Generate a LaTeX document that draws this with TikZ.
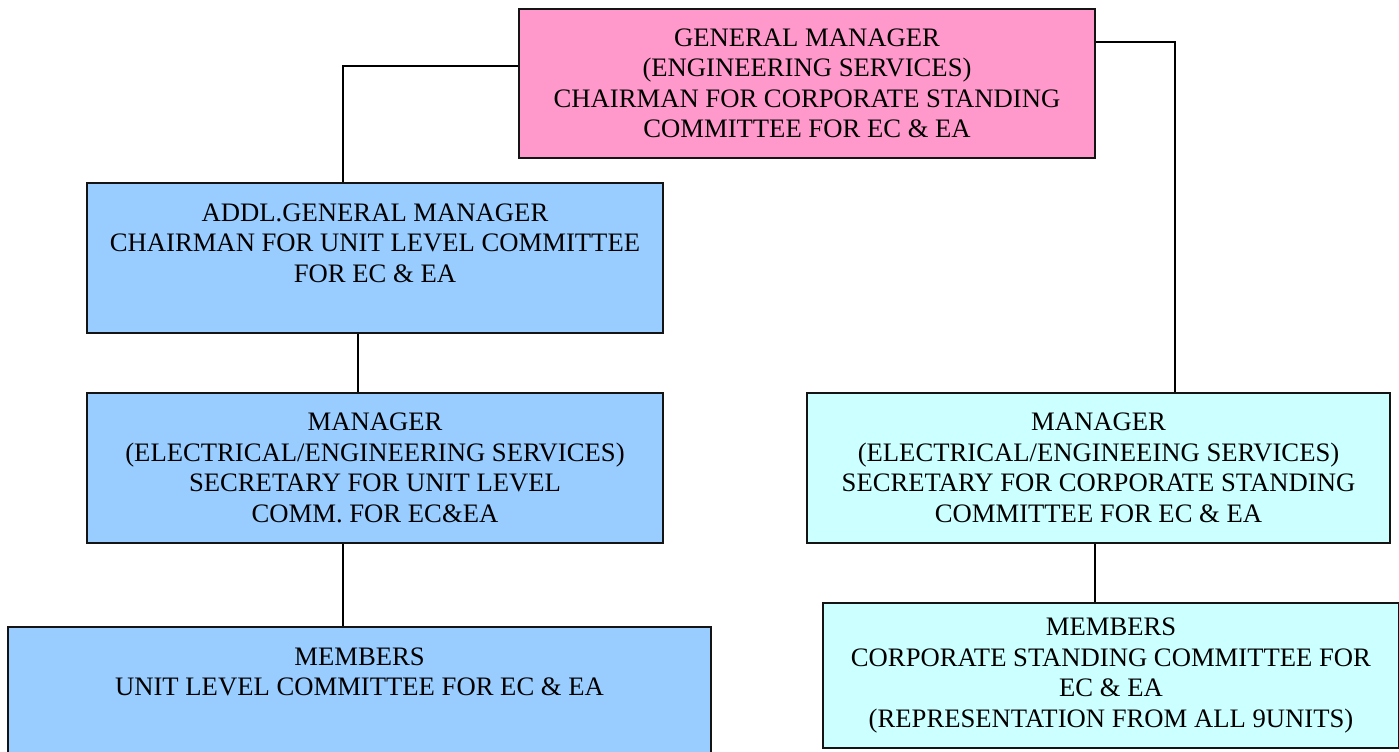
\documentclass[tikz,border=0pt]{standalone}
\usepackage{fontspec}
\setmainfont{Liberation Serif}
\usepackage{tikz}
\definecolor{pinkfill}{RGB}{255, 153, 204}
\definecolor{bluefill}{RGB}{153, 204, 255}
\definecolor{cyanfill}{RGB}{204, 255, 255}
\definecolor{edge}{RGB}{20, 20, 20}

\begin{document}
\begin{tikzpicture}[
   x=0.75pt, y=-0.75pt,
   postbox/.style={rectangle, draw=edge, line width=1.2, text=black, align=center,
                   inner sep=0, font=\fontsize{20}{22.9}\selectfont},
   gmbox/.style={postbox, fill=pinkfill, minimum width=432pt, minimum height=112pt},
   unitbox/.style={postbox, fill=bluefill, minimum width=432pt, minimum height=112.5pt},
   corpbox/.style={postbox, fill=cyanfill, minimum height=112.5pt},
   link/.style={draw=black, line width=1.5}
  ]

  % Page
  \clip (0, 0) rectangle (1399, 752);

  % Chairman
  \node (gm) at (807, 83.5) [gmbox] {GENERAL MANAGER\\(ENGINEERING SERVICES)\\CHAIRMAN FOR CORPORATE STANDING\\COMMITTEE FOR EC \& EA};

  % Unit level
  \node (addl) at (375, 258) [unitbox] {ADDL.GENERAL MANAGER\\CHAIRMAN FOR UNIT LEVEL COMMITTEE\\FOR EC \& EA\\~};
  \node (mgrL) at (375, 468) [unitbox] {MANAGER\\(ELECTRICAL/ENGINEERING SERVICES)\\SECRETARY FOR UNIT LEVEL\\COMM. FOR EC\&EA};
  \node (memL) at (359.5, 702) [unitbox, minimum width=527.25pt] {MEMBERS\\UNIT LEVEL COMMITTEE FOR EC \& EA\\~\\~};

  % Corporate level
  \node (mgrR) at (1098.5, 468) [corpbox, minimum width=437.25pt] {MANAGER\\(ELECTRICAL/ENGINEEING SERVICES)\\SECRETARY FOR CORPORATE STANDING\\COMMITTEE FOR EC \& EA};
  \node (memR) at (1111, 675.5) [corpbox, minimum width=432pt, minimum height=108.75pt] {MEMBERS\\CORPORATE STANDING COMMITTEE FOR\\EC \& EA\\(REPRESENTATION FROM ALL 9UNITS)};

  \draw[link] ([yshift=13.1pt]gm.west) -| ([xshift=-24pt]addl.north);
  \draw[link] ([yshift=31.1pt]gm.east) -| ([xshift=57.4pt]mgrR.north);
  \draw[link] ([xshift=-12.75pt]addl.south) -- ([xshift=-12.75pt]mgrL.north);
  \draw[link] ([xshift=-24pt]mgrL.south) -- ([xshift=-24pt]mgrL.south |- memL.north);
  \draw[link] ([xshift=-2.6pt]mgrR.south) -- ([xshift=-2.6pt]mgrR.south |- memR.north);

\end{tikzpicture}
\end{document}
